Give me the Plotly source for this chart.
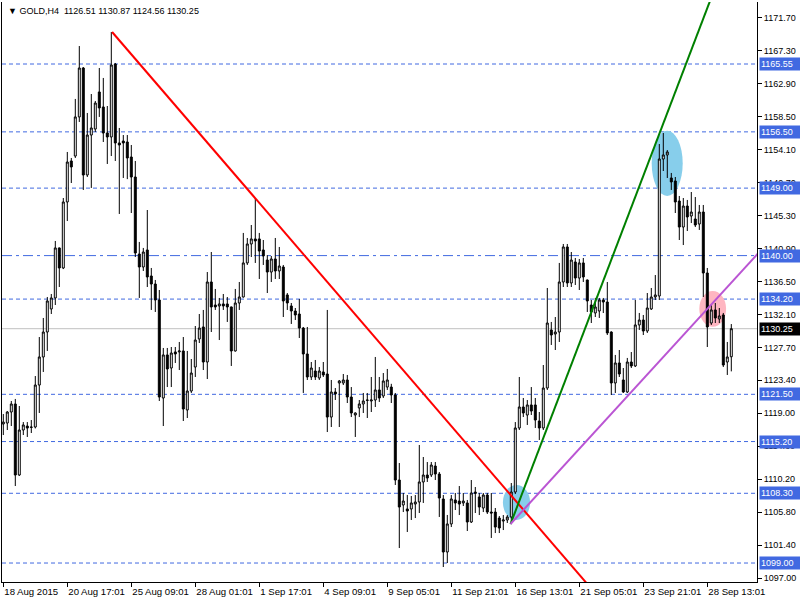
import plotly.graph_objects as go

# ---------------- data (GOLD, H4) ----------------
open_ = [1117.54,1117.67,1119.14,1120.21,1110.74,1116.74,1117.27,1117.14,1117.14,1122.74,
         1126.48,1129.81,1132.88,1134.35,1141.02,1138.35,1147.15,1152.62,1153.28,1158.49,
         1165.02,1150.75,1156.08,1156.88,1161.82,1159.82,1156.35,1155.82,1165.55,1155.02,
         1155.28,1155.15,1153.15,1150.48,1140.21,1138.48,1140.75,1137.28,1136.21,1134.08,
         1121.01,1126.75,1125.01,1127.15,1127.15,1127.28,1119.41,1121.94,1125.14,1128.88,
         1130.48,1125.81,1136.48,1133.41,1133.28,1133.55,1133.55,1133.15,1127.28,1133.68,
         1134.48,1139.02,1141.55,1142.22,1142.22,1140.75,1139.41,1137.81,1139.55,1137.95,
         1138.48,1134.75,1133.28,1132.61,1132.21,1130.34,1126.88,1123.81,1124.61,1123.68,
         1124.48,1124.21,1118.47,1121.81,1123.01,1123.01,1123.41,1121.14,1118.74,1119.68,
         1120.21,1120.74,1120.61,1120.74,1122.08,1121.28,1122.47,1122.47,1121.41,1110.07,
         1106.74,1106.21,1106.21,1106.87,1107.14,1109.81,1110.74,1110.74,1111.94,1110.87,
         1107.54,1100.47,1104.21,1107.41,1107.27,1107.01,1107.01,1104.47,1108.27,1107.81,
         1106.34,1108.07,1105.80,1105.80,1105.00,1104.60,1104.74,1105.14,1108.47,1117.01,
         1119.81,1118.74,1120.08,1120.08,1117.94,1117.01,1122.34,1130.08,1129.54,1129.81,
         1136.48,1141.15,1136.35,1139.15,1137.01,1139.02,1136.75,1133.41,1132.35,1132.61,
         1134.08,1133.81,1129.81,1123.01,1125.68,1123.41,1121.81,1125.81,1125.28,1130.75,
         1131.41,1129.94,1132.88,1134.48,1134.61,1152.88,1153.42,1150.35,1149.95,1147.28,
         1143.81,1146.61,1145.28,1144.88,1144.21,1145.81,1137.68,1131.01,1132.75,1131.55,
         1132.08,1125.81,1126.51]
high = [1118.87,1119.27,1120.61,1120.88,1119.94,1117.80,1117.80,1118.07,1123.94,1129.14,
        1131.68,1134.48,1134.88,1141.95,1141.08,1147.68,1153.82,1153.02,1160.89,1167.95,
        1165.15,1159.02,1161.55,1160.62,1165.02,1163.69,1159.95,1169.82,1165.69,1157.02,
        1156.08,1156.08,1154.75,1152.62,1141.82,1141.02,1146.08,1138.35,1136.75,1135.41,
        1127.68,1127.68,1127.81,1127.81,1128.48,1129.14,1127.28,1126.21,1130.61,1132.21,
        1132.75,1137.81,1140.48,1135.55,1134.35,1134.88,1134.48,1133.20,1135.55,1136.48,
        1143.02,1142.35,1144.08,1147.68,1143.02,1142.08,1140.08,1139.95,1142.35,1141.15,
        1138.75,1135.01,1133.68,1133.01,1134.21,1130.48,1130.48,1125.81,1126.08,1125.14,
        1125.81,1132.75,1123.41,1122.34,1123.41,1124.21,1124.08,1122.47,1119.10,1120.74,
        1121.68,1121.68,1123.81,1126.48,1123.81,1124.34,1124.88,1122.90,1121.68,1112.34,
        1108.34,1108.07,1107.94,1108.07,1114.74,1113.14,1112.47,1112.47,1112.47,1111.14,
        1108.07,1105.41,1108.07,1108.34,1109.27,1108.34,1107.41,1110.07,1109.14,1108.34,
        1108.34,1108.34,1108.34,1106.34,1105.27,1105.40,1105.40,1109.67,1117.80,1123.81,
        1121.01,1120.74,1122.47,1121.01,1119.14,1125.41,1135.68,1131.15,1131.81,1139.02,
        1141.55,1141.55,1140.48,1139.68,1139.55,1139.68,1136.80,1134.08,1134.35,1134.35,
        1134.35,1136.48,1129.90,1126.75,1127.41,1125.01,1126.35,1127.14,1134.08,1132.35,
        1132.08,1135.01,1135.68,1137.41,1154.88,1156.35,1154.08,1151.02,1150.48,1147.95,
        1147.68,1147.42,1148.48,1147.81,1146.75,1146.75,1138.35,1133.41,1133.68,1133.01,
        1132.35,1128.48,1130.87]
low = [1116.07,1116.74,1117.27,1109.27,1110.61,1116.07,1115.81,1116.34,1116.95,1119.01,
       1124.48,1127.28,1132.21,1133.41,1135.81,1138.20,1144.61,1149.68,1153.02,1157.82,
       1148.75,1150.48,1149.02,1156.49,1158.49,1155.15,1152.22,1153.28,1152.62,1145.55,
       1150.35,1150.20,1145.68,1139.81,1134.35,1137.95,1135.81,1132.75,1132.48,1120.61,
       1117.27,1122.47,1122.47,1125.68,1124.74,1117.94,1118.34,1121.68,1123.81,1128.34,
       1124.74,1123.54,1129.81,1132.75,1128.74,1132.75,1131.15,1125.28,1127.20,1132.75,
       1134.40,1138.75,1139.81,1139.02,1136.88,1138.75,1135.01,1136.48,1136.88,1136.88,
       1131.81,1132.75,1130.88,1131.41,1129.01,1121.68,1123.41,1123.41,1123.41,1123.41,
       1123.81,1116.47,1117.14,1120.74,1117.14,1122.74,1120.34,1118.47,1115.81,1118.47,
       1119.01,1118.34,1119.14,1119.81,1120.48,1121.01,1122.08,1120.34,1109.41,1101.00,
       1105.80,1103.14,1104.74,1105.00,1105.67,1107.01,1109.81,1110.47,1110.07,1105.14,
       1098.47,1099.00,1103.80,1106.07,1105.40,1106.60,1103.27,1104.34,1105.67,1105.40,
       1105.80,1105.54,1102.34,1103.00,1103.00,1103.40,1104.34,1104.47,1108.20,1116.74,
       1118.47,1117.41,1118.74,1117.01,1115.41,1116.74,1122.08,1128.08,1127.41,1128.48,
       1135.81,1135.81,1135.81,1136.08,1135.41,1136.48,1132.48,1131.01,1131.81,1131.68,
       1132.34,1129.41,1121.41,1121.68,1123.81,1121.68,1121.68,1125.01,1125.14,1130.08,
       1129.41,1129.68,1132.75,1134.08,1134.08,1151.28,1150.35,1148.75,1145.68,1142.08,
       1141.41,1143.28,1144.34,1143.81,1143.42,1134.48,1127.81,1130.75,1131.01,1131.01,
       1125.14,1124.08,1124.56]
close = [1117.80,1119.14,1120.21,1110.74,1116.74,1117.41,1117.00,1117.10,1122.74,1126.48,
         1129.81,1133.95,1134.35,1141.02,1138.35,1147.15,1152.48,1151.82,1158.49,1165.02,
         1150.75,1156.08,1157.02,1160.35,1159.69,1156.35,1155.82,1165.42,1155.02,1154.75,
         1155.02,1153.02,1150.48,1140.35,1138.48,1140.48,1137.15,1136.21,1134.08,1121.14,
         1126.75,1124.88,1127.01,1126.88,1127.28,1119.54,1121.94,1124.34,1128.74,1130.34,
         1125.81,1136.48,1133.15,1133.15,1133.55,1133.28,1133.15,1127.28,1133.68,1134.48,
         1139.02,1141.55,1142.22,1141.95,1140.61,1139.95,1137.81,1139.55,1137.95,1138.61,
         1133.95,1133.68,1132.61,1132.08,1130.34,1126.88,1123.81,1125.01,1123.81,1124.61,
         1124.08,1118.47,1121.81,1121.54,1123.28,1123.41,1121.14,1119.01,1119.01,1120.21,
         1120.61,1120.70,1120.74,1122.08,1121.01,1123.28,1123.41,1121.41,1110.07,1106.47,
         1107.27,1105.94,1107.01,1107.14,1109.81,1110.74,1110.34,1112.07,1110.87,1107.67,
         1100.47,1104.21,1107.54,1107.01,1106.87,1107.27,1104.47,1108.34,1108.47,1106.47,
         1108.07,1105.80,1105.67,1103.80,1103.67,1104.74,1105.14,1108.47,1117.01,1119.81,
         1119.01,1120.08,1119.27,1118.07,1117.01,1122.34,1131.01,1129.41,1129.81,1136.48,
         1141.15,1136.35,1139.41,1137.01,1139.02,1137.15,1133.95,1132.48,1133.15,1134.08,
         1133.81,1129.68,1123.01,1125.68,1124.21,1121.81,1125.81,1125.28,1130.75,1131.41,
         1129.94,1133.01,1134.48,1134.75,1152.88,1153.42,1153.82,1149.82,1147.15,1143.81,
         1146.61,1145.15,1145.81,1144.08,1145.81,1137.68,1130.48,1132.75,1131.68,1131.95,
         1125.41,1126.48,1130.25]
bars = list(range(len(close)))

tick_bars = [0, 16, 32, 48, 64, 80, 96, 112, 128, 144, 160, 176]
tick_dates = ["18 Aug 2015", "20 Aug 17:01", "25 Aug 09:01", "28 Aug 01:01", "1 Sep 17:01",
              "4 Sep 09:01", "9 Sep 05:01", "11 Sep 21:01", "16 Sep 13:01", "21 Sep 05:01",
              "23 Sep 21:01", "28 Sep 13:01"]
price_ticks = [1171.70, 1167.30, 1162.90, 1158.50, 1154.10, 1149.70, 1145.30, 1140.90, 1136.50,
               1132.10, 1127.70, 1123.40, 1119.00, 1114.60, 1110.20, 1105.80, 1101.40, 1097.00]

levels_dashed = [1165.55, 1156.50, 1149.00, 1134.20, 1121.50, 1115.20, 1108.30, 1099.00]
level_dashdot = [1140.00]
bid_price = 1130.25

# trend lines: (bar, price) anchor pairs
red_line_bars, red_line_prices = [27.2, 160.0], [1169.82, 1087.53]
green_line_bars, green_line_prices = [126.8, 185.0], [1104.20, 1185.60]
purple_line_bars, purple_line_prices = [126.8, 190.0], [1104.20, 1141.05]

# ellipses: (bar0, bar1, price0, price1)
ellipses = [
    (124.9, 131.7, 1104.74, 1109.40, "#87CEEB"),
    (162.1, 169.85, 1147.95, 1156.66, "#87CEEB"),
    (174.0, 180.7, 1130.52, 1135.28, "#FFB6C1"),
]

header = "GOLD,H4&nbsp;&nbsp;1126.51 1130.87 1124.56 1130.25"

# ---------------- figure ----------------
FONT = "Liberation Sans, Arial, sans-serif"
BLUE = "#4169E1"

fig = go.Figure()
fig.add_trace(go.Candlestick(
    x=bars, open=open_, high=high, low=low, close=close,
    increasing=dict(fillcolor="white", line=dict(color="black", width=1)),
    decreasing=dict(fillcolor="black", line=dict(color="black", width=1)),
    whiskerwidth=0, hoverinfo="skip", showlegend=False))

for xs, ys, col in [(red_line_bars, red_line_prices, "#FF0000"),
                    (green_line_bars, green_line_prices, "#008000"),
                    (purple_line_bars, purple_line_prices, "#BA55D3")]:
    fig.add_trace(go.Scatter(x=xs, y=ys, mode="lines", line=dict(color=col, width=2),
                             hoverinfo="skip", showlegend=False))

shapes = []
for lv in levels_dashed:
    shapes.append(dict(type="line", xref="paper", x0=0, x1=1, yref="y", y0=lv, y1=lv,
                       line=dict(color=BLUE, width=1, dash="4px,3px"), layer="below"))
for lv in level_dashdot:
    shapes.append(dict(type="line", xref="paper", x0=0, x1=1, yref="y", y0=lv, y1=lv,
                       line=dict(color=BLUE, width=1, dash="10px,4px,3px,4px"), layer="below"))
shapes.append(dict(type="line", xref="paper", x0=0, x1=1, yref="y", y0=bid_price, y1=bid_price,
                   line=dict(color="#C0C0C0", width=1), layer="below"))
for b0, b1, p0, p1, col in ellipses:
    shapes.append(dict(type="circle", xref="x", yref="y", x0=b0, x1=b1, y0=p0, y1=p1,
                       fillcolor=col, line=dict(width=0), layer="below"))

annotations = []
for lv in levels_dashed + level_dashdot:
    annotations.append(dict(xref="paper", x=1, xanchor="left", xshift=2, yref="y", y=lv,
                            yanchor="middle", text=f"{lv:.2f}", showarrow=False,
                            font=dict(family=FONT, size=9, color="white"), bgcolor=BLUE,
                            width=38, height=10, align="left", borderpad=1))
annotations.append(dict(xref="paper", x=1, xanchor="left", xshift=2, yref="y", y=bid_price,
                        yanchor="middle", text=f"{bid_price:.2f}", showarrow=False,
                        font=dict(family=FONT, size=9, color="white"), bgcolor="black",
                        width=38, height=10, align="left", borderpad=1))
annotations.append(dict(xref="paper", x=0, xanchor="left", xshift=4, yref="paper", y=1,
                        yanchor="top", yshift=-2, text="▼ " + header, showarrow=False,
                        font=dict(family=FONT, size=9, color="black")))

fig.update_layout(
    template="none", width=800, height=600,
    margin=dict(l=2, r=43, t=2, b=18, pad=0),
    paper_bgcolor="white", plot_bgcolor="white", showlegend=False,
    shapes=shapes, annotations=annotations,
    xaxis=dict(range=[-0.325, 188.425], tickmode="array", tickvals=tick_bars, ticktext=tick_dates,
               ticks="outside", ticklen=4, tickcolor="black", showline=True, linecolor="black",
               linewidth=1, showgrid=False, zeroline=False, rangeslider=dict(visible=False),
               ticklabelposition="outside right", tickangle=0, automargin=False,
               tickfont=dict(family=FONT, size=9.6, color="black")),
    yaxis=dict(side="right", range=[1096.47, 1173.82], tickmode="array", tickvals=price_ticks,
               ticktext=[f"{v:.2f}" for v in price_ticks], ticks="outside", ticklen=4,
               tickcolor="black", showline=True, mirror=True, linecolor="black", linewidth=1,
               showgrid=False, zeroline=False, automargin=False,
               tickfont=dict(family=FONT, size=9, color="black")),
)

fig.write_html("out.html", config={"displayModeBar": False},
               post_script="document.body.style.margin='0px';document.body.style.overflow='hidden';")
